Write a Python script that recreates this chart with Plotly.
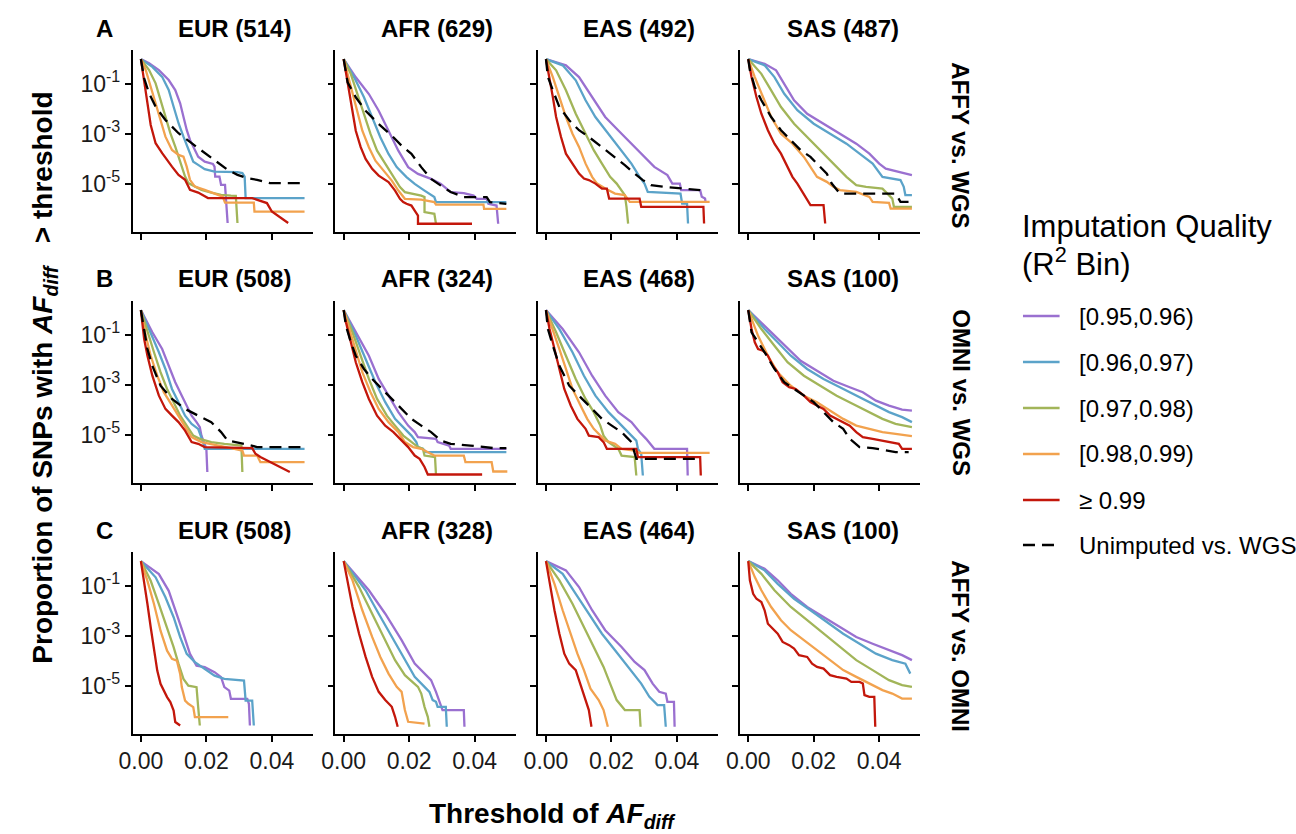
import plotly.graph_objects as go
from plotly.subplots import make_subplots

# ~~~~~~~~~~~~~~~~~~~~~~~~~~~~~~~~~~~~~~~~~~~~~~~~~~~~~~~~~~~~~~~~~~~~~~~~~~~~~~
# values: x = AF_diff threshold, ly = log10(proportion > threshold)
# keys: p95 [0.95,0.96), p96 [0.96,0.97), p97 [0.97,0.98), p98 [0.98,0.99), p99 >=0.99, unimp

bins = ["p95", "p96", "p97", "p98", "p99", "unimp"]
bin_labels = ["[0.95,0.96)", "[0.96,0.97)", "[0.97,0.98)", "[0.98,0.99)", "\u2265 0.99", "Unimputed vs. WGS"]
comparisons = ["AFFY vs. WGS", "OMNI vs. WGS", "AFFY vs. OMNI"]
row_letters = ["A", "B", "C"]
pops = [
    ["EUR (514)", "AFR (629)", "EAS (492)", "SAS (487)"],
    ["EUR (508)", "AFR (324)", "EAS (468)", "SAS (100)"],
    ["EUR (508)", "AFR (328)", "EAS (464)", "SAS (100)"],
]
x_ticks = [0.0, 0.02, 0.04]
x_ticktext = ["0.00", "0.02", "0.04"]
y_ticks = [1e-1, 1e-3, 1e-5]
y_ticktext = ["10<sup>-1</sup>", "10<sup>-3</sup>", "10<sup>-5</sup>"]

A_EUR = {
    "p95": ([0, .0025, .0055, .0085, .0105, .012, .013, .014, .015, .0175, .0195, .022, .0225, .0227, .024, .0245, .0257, .026, .0265],
            [0, -0.17, -0.44, -0.84, -1.24, -1.77, -2.31, -2.84, -3.24, -3.91, -4.11, -4.20, -4.31, -4.71, -4.71, -5.04, -5.04, -5.51, -6.57]),
    "p96": ([0, .0035, .0065, .0085, .01, .0115, .013, .0145, .016, .0175, .0195, .0225, .0295, .031, .0317, .032, .05],
            [0, -0.31, -0.71, -1.24, -1.91, -2.57, -3.11, -3.64, -4.11, -4.24, -4.41, -4.51, -4.53, -4.57, -4.71, -5.57, -5.57]),
    "p97": ([0, .0025, .0045, .006, .0075, .009, .0105, .0115, .0125, .0135, .0145, .0165, .0185, .0215, .0245, .0275, .029, .0295],
            [0, -0.44, -0.97, -1.64, -2.31, -2.97, -3.51, -3.91, -4.31, -4.71, -4.97, -5.11, -5.24, -5.35, -5.44, -5.47, -5.48, -6.57]),
    "p98": ([0, .0015, .003, .0045, .006, .0075, .0095, .0115, .013, .014, .015, .0165, .0195, .0225, .025, .0257, .0345, .0347, .05],
            [0, -0.44, -1.11, -1.77, -2.44, -3.11, -3.64, -3.84, -3.91, -4.31, -4.84, -5.11, -5.24, -5.37, -5.51, -5.75, -5.75, -6.11, -6.11]),
    "p99": ([0, .0013, .003, .0045, .0065, .0095, .0115, .0135, .015, .0175, .02, .0205, .034, .0385, .04, .0435, .045],
            [0, -1.24, -2.64, -3.37, -3.77, -4.31, -4.64, -4.84, -5.24, -5.35, -5.51, -5.57, -5.57, -5.77, -6.11, -6.44, -6.57]),
    "unimp": ([0, .001, .0025, .0045, .0075, .0115, .0155, .0195, .0235, .0265, .0295, .0325, .0355, .0395, .05],
              [0, -0.77, -1.37, -1.91, -2.44, -2.97, -3.37, -3.77, -4.17, -4.44, -4.64, -4.77, -4.84, -4.97, -4.97]),
}

A_AFR = {
    "p95": ([0, .0037, .0077, .0107, .0137, .0167, .0197, .0227, .0267, .0297, .0327, .0367, .0397, .0407, .0437, .0442, .0467, .0472],
            [0, -0.73, -1.4, -2.07, -2.87, -3.67, -4.33, -4.6, -4.8, -5.0, -5.33, -5.37, -5.47, -5.6, -5.6, -5.8, -5.87, -6.6]),
    "p96": ([0, .0032, .0062, .0087, .0112, .0137, .0162, .0192, .0217, .0247, .0277, .0282, .0497],
            [0, -0.73, -1.53, -2.33, -3.13, -3.8, -4.33, -4.73, -5.0, -5.27, -5.53, -5.73, -5.73]),
    "p97": ([0, .0022, .0042, .0062, .0082, .0102, .0127, .0152, .0172, .0187, .0217, .0237, .0247, .0247, .0277, .0282],
            [0, -0.6, -1.4, -2.2, -3.0, -3.67, -4.2, -4.73, -5.13, -5.33, -5.4, -5.47, -5.53, -6.13, -6.2, -6.6]),
    "p98": ([0, .0012, .0027, .0042, .0057, .0077, .0097, .0122, .0147, .0167, .0182, .0187, .0237, .0277, .0282, .0427, .0429, .0497],
            [0, -0.6, -1.4, -2.2, -2.87, -3.53, -4.07, -4.47, -4.87, -5.27, -5.53, -5.6, -5.63, -5.73, -5.83, -5.83, -6.0, -6.0]),
    "p99": ([0, .0007, .0017, .0027, .0037, .0052, .0067, .0087, .0107, .0137, .0157, .0172, .0182, .0192, .0207, .0217, .0227, .0227, .0392],
            [0, -0.53, -1.27, -2.07, -2.87, -3.53, -4.0, -4.4, -4.67, -4.93, -5.27, -5.6, -5.73, -5.8, -5.87, -6.07, -6.27, -6.6, -6.6]),
    "unimp": ([0, .0005, .0012, .0037, .0067, .0107, .0147, .0177, .0207, .0237, .0267, .0297, .0327, .0367, .0437, .0447, .0497],
              [0, -0.33, -0.93, -1.53, -2.07, -2.6, -3.07, -3.47, -3.8, -4.33, -4.8, -5.07, -5.33, -5.53, -5.53, -5.73, -5.8]),
}

A_EAS = {
    "p95": ([0, .0061, .0101, .0141, .0181, .0231, .0281, .0331, .0371, .0386, .0409, .0413, .0471, .0476, .0486, .0488],
            [0, -0.25, -0.72, -1.52, -2.32, -2.99, -3.65, -4.32, -4.65, -4.99, -4.99, -5.25, -5.25, -5.52, -5.59, -5.76]),
    "p96": ([0, .0051, .0091, .0121, .0151, .0191, .0231, .0261, .0286, .0301, .0311, .0411, .0416, .0431, .0434],
            [0, -0.25, -0.85, -1.65, -2.32, -2.99, -3.65, -4.19, -4.72, -4.99, -5.32, -5.39, -5.79, -5.79, -6.59]),
    "p97": ([0, .0031, .0061, .0091, .0121, .0146, .0171, .0196, .0216, .0231, .0241, .0246, .0251],
            [0, -0.45, -1.25, -2.19, -2.99, -3.65, -4.19, -4.72, -4.99, -5.25, -5.45, -5.92, -6.59]),
    "p98": ([0, .0021, .0041, .0061, .0081, .0101, .0121, .0141, .0156, .0181, .0211, .0241, .0256, .05],
            [0, -0.72, -1.52, -2.32, -2.99, -3.52, -4.19, -4.72, -4.99, -5.19, -5.39, -5.45, -5.72, -5.72]),
    "p99": ([0, .0011, .0021, .0031, .0046, .0061, .0081, .0101, .0116, .0131, .0151, .0171, .0186, .0193, .0286, .0291, .0481, .0483],
            [0, -0.72, -1.52, -2.32, -3.12, -3.79, -4.19, -4.59, -4.79, -4.85, -4.99, -5.19, -5.19, -5.59, -5.59, -5.92, -5.92, -6.59]),
    "unimp": ([0, .0006, .0021, .0041, .0071, .0101, .0131, .0171, .0211, .0241, .0271, .0296, .0321, .0361, .0471],
              [0, -0.72, -1.25, -1.92, -2.45, -2.85, -3.12, -3.52, -3.92, -4.25, -4.59, -4.85, -5.05, -5.12, -5.25]),
}

A_SAS = {
    "p95": ([0, .005, .0085, .011, .014, .018, .023, .028, .033, .037, .040, .042, .046, .05],
            [0, -0.19, -0.45, -0.99, -1.65, -2.19, -2.59, -2.99, -3.39, -3.79, -4.19, -4.39, -4.52, -4.65]),
    "p96": ([0, .005, .008, .011, .015, .02, .025, .03, .034, .038, .041, .044, .0465, .0475, .048, .05],
            [0, -0.25, -0.72, -1.39, -2.05, -2.59, -2.99, -3.39, -3.79, -4.19, -4.72, -4.79, -4.85, -5.12, -5.45, -5.45]),
    "p97": ([0, .004, .007, .01, .014, .018, .022, .026, .030, .033, .036, .041, .043, .044, .0445, .05],
            [0, -0.59, -1.25, -1.92, -2.59, -3.12, -3.65, -4.19, -4.72, -5.05, -5.12, -5.19, -5.45, -5.59, -5.92, -5.92]),
    "p98": ([0, .002, .0045, .007, .01, .0135, .017, .019, .021, .024, .026, .028, .033, .037, .038, .043, .0435, .05],
            [0, -0.72, -1.52, -2.32, -2.99, -3.39, -3.92, -4.32, -4.72, -4.92, -5.12, -5.25, -5.32, -5.52, -5.72, -5.76, -5.99, -5.99]),
    "p99": ([0, .001, .0025, .004, .006, .008, .01, .012, .0135, .015, .0165, .0175, .0185, .019, .023, .0235],
            [0, -0.72, -1.52, -2.19, -2.85, -3.39, -3.79, -4.32, -4.72, -4.99, -5.32, -5.52, -5.72, -5.85, -5.85, -6.59]),
    "unimp": ([0, .0005, .002, .004, .007, .010, .013, .016, .019, .022, .024, .0255, .028, .045, .0465, .05],
              [0, -0.45, -1.12, -1.65, -2.32, -2.85, -3.25, -3.65, -3.92, -4.32, -4.59, -4.99, -5.39, -5.39, -5.72, -5.72]),
}

B_EUR = {
    "p95": ([0, .0035, .0065, .0085, .0105, .0125, .014, .0155, .017, .018, .0185, .02, .0203],
            [0, -0.89, -1.56, -2.23, -2.89, -3.43, -3.83, -4.23, -4.49, -4.69, -5.03, -5.56, -6.49]),
    "p96": ([0, .003, .0055, .0075, .0095, .0115, .0135, .0155, .0175, .019, .0195, .05],
            [0, -0.89, -1.69, -2.36, -3.16, -3.69, -4.23, -4.56, -4.76, -5.29, -5.56, -5.56]),
    "p97": ([0, .002, .004, .006, .008, .01, .012, .014, .016, .018, .0215, .0255, .0307, .031],
            [0, -0.89, -1.69, -2.49, -3.16, -3.69, -4.23, -4.63, -5.03, -5.16, -5.29, -5.36, -5.43, -6.49]),
    "p98": ([0, .0015, .003, .005, .007, .0095, .0115, .014, .0155, .0185, .0215, .0245, .0275, .031, .0315, .0355, .0365, .05],
            [0, -1.03, -1.83, -2.63, -3.29, -3.83, -4.23, -4.76, -5.09, -5.29, -5.36, -5.45, -5.53, -5.63, -5.83, -5.83, -6.09, -6.09]),
    "p99": ([0, .0005, .001, .002, .0035, .0055, .0075, .0095, .0115, .0135, .0155, .0175, .0195, .034, .035, .0365, .0395, .042, .0455],
            [0, -0.49, -1.16, -1.83, -2.63, -3.43, -3.96, -4.23, -4.49, -4.83, -5.29, -5.36, -5.49, -5.53, -5.76, -5.89, -6.09, -6.23, -6.49]),
    "unimp": ([0, .001, .002, .0035, .006, .0095, .0135, .0175, .0215, .0245, .0265, .0315, .0355, .05],
              [0, -0.76, -1.56, -2.23, -3.03, -3.56, -3.96, -4.23, -4.49, -4.89, -5.23, -5.36, -5.49, -5.49]),
}

B_AFR = {
    "p95": ([0, .0037, .0077, .0107, .0137, .0167, .0197, .0217, .0227, .0282, .0287, .0322, .0327, .0497],
            [0, -0.89, -1.83, -2.76, -3.43, -4.09, -4.63, -4.89, -5.09, -5.16, -5.29, -5.43, -5.56, -5.56]),
    "p96": ([0, .0037, .0067, .0097, .0127, .0157, .0187, .0207, .0222, .0227, .0242, .0252, .0497],
            [0, -1.03, -1.96, -2.89, -3.69, -4.36, -4.76, -5.03, -5.29, -5.49, -5.56, -5.69, -5.69]),
    "p97": ([0, .0027, .0052, .0077, .0102, .0132, .0157, .0182, .0202, .0227, .0242, .0247, .0279, .0282],
            [0, -0.89, -1.83, -2.76, -3.56, -4.23, -4.63, -5.03, -5.23, -5.49, -5.56, -5.83, -5.89, -6.59]),
    "p98": ([0, .0017, .0037, .0057, .0082, .0107, .0137, .0167, .0187, .0212, .0237, .0277, .0367, .0372, .0452, .0457, .05],
            [0, -0.76, -1.69, -2.49, -3.29, -3.96, -4.49, -4.89, -5.29, -5.49, -5.56, -5.83, -5.83, -6.09, -6.09, -6.47, -6.47]),
    "p99": ([0, .0007, .0022, .0037, .0057, .0077, .0102, .0127, .0152, .0177, .0197, .0217, .0232, .0247, .0257, .0423],
            [0, -0.49, -1.29, -2.09, -2.89, -3.56, -4.23, -4.63, -4.89, -5.23, -5.49, -5.83, -5.96, -6.29, -6.59, -6.59]),
    "unimp": ([0, .0007, .0022, .0037, .0062, .0087, .0117, .0147, .0177, .0207, .0237, .0267, .0297, .0327, .0387, .0447, .0457, .0497],
              [0, -0.63, -1.29, -1.83, -2.36, -2.76, -3.16, -3.56, -3.96, -4.36, -4.63, -4.89, -5.23, -5.36, -5.43, -5.49, -5.53, -5.53]),
}

B_EAS = {
    "p95": ([0, .0051, .0101, .0141, .0181, .0221, .0261, .0286, .0306, .0326, .0331, .0431, .0433],
            [0, -0.76, -1.69, -2.63, -3.43, -4.09, -4.49, -4.89, -5.16, -5.49, -5.56, -5.56, -6.63]),
    "p96": ([0, .0041, .0081, .0116, .0151, .0191, .0221, .0241, .0261, .0276, .0281, .0291, .0296],
            [0, -0.76, -1.69, -2.63, -3.43, -4.09, -4.49, -4.76, -5.03, -5.23, -5.56, -5.76, -6.63]),
    "p97": ([0, .0031, .0061, .0091, .0121, .0146, .0166, .0176, .0191, .0221, .0231, .0271, .0276],
            [0, -0.89, -1.83, -2.76, -3.56, -4.09, -4.63, -5.03, -5.29, -5.56, -5.83, -5.89, -6.63]),
    "p98": ([0, .0021, .0041, .0061, .0081, .0106, .0126, .0146, .0166, .0181, .0211, .0231, .0271, .0286, .05],
            [0, -0.76, -1.56, -2.36, -3.16, -3.83, -4.36, -4.76, -5.03, -5.23, -5.36, -5.56, -5.63, -5.72, -5.72]),
    "p99": ([0, .0011, .0026, .0041, .0056, .0076, .0096, .0121, .0131, .0161, .0176, .0186, .0276, .0281, .0471, .0473],
            [0, -0.76, -1.56, -2.36, -3.16, -3.83, -4.36, -4.76, -5.03, -5.09, -5.29, -5.56, -5.56, -5.89, -5.89, -6.63]),
    "unimp": ([0, .0006, .0021, .0041, .0071, .0101, .0141, .0171, .0201, .0231, .0246, .0261, .0276, .0471],
              [0, -0.76, -1.43, -2.23, -3.03, -3.43, -3.96, -4.36, -4.63, -4.89, -5.09, -5.29, -5.96, -5.96]),
}

B_SAS = {
    "p95": ([0, .006, .011, .016, .021, .026, .031, .035, .039, .043, .047, .05],
            [0, -0.76, -1.43, -2.03, -2.43, -2.83, -3.09, -3.29, -3.63, -3.83, -3.99, -4.03]),
    "p96": ([0, .005, .009, .013, .018, .023, .028, .033, .038, .043, .047, .05],
            [0, -0.76, -1.29, -1.83, -2.36, -2.76, -3.09, -3.43, -3.76, -4.09, -4.29, -4.49]),
    "p97": ([0, .004, .008, .012, .017, .022, .027, .032, .037, .041, .045, .05],
            [0, -0.76, -1.43, -2.09, -2.63, -3.03, -3.43, -3.76, -4.09, -4.36, -4.56, -4.69]),
    "p98": ([0, .003, .006, .009, .013, .017, .021, .025, .029, .033, .037, .041, .045, .05],
            [0, -1.03, -1.83, -2.49, -3.03, -3.43, -3.69, -4.03, -4.36, -4.63, -4.76, -4.89, -4.96, -5.05]),
    "p99": ([0, .001, .002, .003, .0045, .006, .0075, .009, .0105, .0125, .0145, .017, .019, .021, .023, .025, .027, .029, .031, .033, .035, .038, .041, .044, .046, .047, .05],
            [0, -0.76, -1.29, -1.56, -1.63, -1.83, -2.23, -2.49, -2.89, -3.09, -3.16, -3.43, -3.69, -3.83, -3.96, -4.23, -4.36, -4.49, -4.63, -4.89, -5.09, -5.16, -5.23, -5.29, -5.36, -5.56, -5.56]),
    "unimp": ([0, .001, .003, .005, .008, .011, .014, .017, .02, .023, .026, .029, .031, .034, .038, .045, .049],
              [0, -0.89, -1.29, -1.69, -2.36, -2.89, -3.16, -3.43, -3.69, -4.09, -4.49, -4.76, -5.16, -5.49, -5.53, -5.69, -5.69]),
}

C_EUR = {
    "p95": ([0, .0055, .0085, .011, .013, .015, .017, .0195, .0225, .0245, .0255, .027, .0275, .0325, .033, .0333],
            [0, -0.52, -1.19, -2.12, -2.92, -3.72, -4.19, -4.25, -4.45, -4.65, -5.05, -5.19, -5.52, -5.52, -5.72, -6.59]),
    "p96": ([0, .0045, .0075, .01, .012, .014, .0165, .0195, .0225, .0255, .0315, .032, .034, .0345],
            [0, -0.65, -1.45, -2.25, -3.05, -3.72, -4.05, -4.32, -4.59, -4.72, -4.79, -5.59, -5.59, -6.59]),
    "p97": ([0, .003, .0055, .008, .01, .0115, .013, .0145, .017, .0175, .018],
            [0, -0.79, -1.72, -2.65, -3.45, -4.12, -4.72, -4.99, -5.05, -5.85, -6.59]),
    "p98": ([0, .002, .004, .006, .008, .0095, .011, .012, .0125, .0135, .0145, .016, .0165, .0267],
            [0, -0.79, -1.72, -2.79, -3.59, -3.92, -3.99, -4.52, -5.05, -5.59, -5.72, -5.85, -6.25, -6.25]),
    "p99": ([0, .001, .002, .003, .004, .005, .006, .007, .008, .009, .01, .0105, .012],
            [0, -0.79, -1.72, -2.65, -3.59, -4.39, -4.92, -5.19, -5.45, -5.65, -5.99, -6.45, -6.59]),
}

C_AFR = {
    "p95": ([0, .0077, .0127, .0177, .0217, .0247, .0267, .0282, .0292, .0302, .0367, .0369],
            [0, -1.17, -2.11, -3.17, -4.11, -4.51, -4.77, -5.24, -5.57, -5.97, -5.97, -6.64]),
    "p96": ([0, .0067, .0107, .0147, .0187, .0217, .0247, .0262, .0272, .0282, .0287, .0312, .0315],
            [0, -1.17, -2.11, -3.04, -3.97, -4.64, -5.04, -5.24, -5.57, -5.64, -5.84, -5.84, -6.64]),
    "p97": ([0, .0047, .0087, .0127, .0157, .0187, .0227, .0237, .0247, .0257, .0262],
            [0, -1.04, -2.11, -3.17, -3.97, -4.57, -5.04, -5.31, -5.84, -6.24, -6.64]),
    "p98": ([0, .0027, .0057, .0087, .0112, .0137, .0162, .0177, .0187, .0197, .0247],
            [0, -0.77, -1.97, -3.04, -3.84, -4.51, -5.04, -5.24, -5.97, -6.44, -6.51]),
    "p99": ([0, .0012, .0027, .0047, .0067, .0087, .0107, .0127, .0147, .0157, .0165],
            [0, -0.77, -1.84, -2.91, -3.84, -4.64, -5.24, -5.57, -5.84, -6.24, -6.64]),
}

C_EAS = {
    "p95": ([0, .0061, .0101, .0141, .0181, .0231, .0271, .0301, .0326, .0346, .0366, .0371, .0391, .0393],
            [0, -0.37, -1.04, -1.97, -2.77, -3.44, -4.04, -4.37, -4.91, -5.24, -5.31, -5.64, -5.64, -6.64]),
    "p96": ([0, .0051, .0091, .0131, .0171, .0211, .0251, .0291, .0316, .0341, .0361, .0366],
            [0, -0.51, -1.31, -2.11, -2.91, -3.57, -4.24, -4.91, -5.44, -5.77, -5.77, -6.64]),
    "p97": ([0, .0041, .0081, .0116, .0146, .0176, .0196, .0216, .0241, .0286, .0289],
            [0, -0.77, -1.71, -2.64, -3.44, -4.24, -4.91, -5.57, -5.97, -5.97, -6.64]),
    "p98": ([0, .0026, .0051, .0076, .0096, .0116, .0136, .0161, .0176, .0189],
            [0, -0.91, -1.97, -2.91, -3.71, -4.37, -5.11, -5.57, -5.97, -6.64]),
    "p99": ([0, .0011, .0026, .0041, .0056, .0071, .0091, .0101, .0111, .0121, .0131, .0139],
            [0, -0.91, -1.97, -2.91, -3.71, -4.11, -4.37, -4.77, -5.17, -5.57, -5.97, -6.64]),
}

C_SAS = {
    "p95": ([0, .005, .009, .013, .018, .023, .028, .033, .038, .043, .047, .05],
            [0, -0.31, -0.77, -1.31, -1.84, -2.24, -2.64, -3.04, -3.31, -3.57, -3.77, -3.97]),
    "p96": ([0, .005, .009, .014, .019, .024, .029, .034, .039, .044, .048, .0495],
            [0, -0.37, -0.91, -1.51, -1.97, -2.44, -2.91, -3.31, -3.71, -3.97, -4.11, -4.51]),
    "p97": ([0, .004, .008, .013, .018, .023, .028, .033, .038, .043, .047, .05],
            [0, -0.51, -1.17, -1.84, -2.37, -2.91, -3.44, -3.97, -4.37, -4.77, -4.97, -5.04]),
    "p98": ([0, .002, .004, .007, .01, .013, .017, .021, .025, .029, .033, .037, .041, .044, .047, .05],
            [0, -0.64, -1.17, -1.84, -2.37, -2.77, -3.17, -3.57, -3.97, -4.37, -4.64, -4.91, -5.17, -5.31, -5.51, -5.51]),
    "p99": ([0, .0005, .0015, .0025, .004, .005, .006, .0075, .009, .0105, .0125, .014, .0155, .018, .0195, .021, .023, .025, .027, .030, .0315, .034, .035, .0355, .037, .0385, .0388],
            [0, -0.77, -1.31, -1.51, -1.64, -1.97, -2.51, -2.71, -2.91, -3.24, -3.37, -3.51, -3.77, -3.84, -4.11, -4.24, -4.31, -4.57, -4.64, -4.71, -4.84, -4.84, -4.91, -5.37, -5.44, -5.44, -6.64]),
}

panels = [
    [A_EUR, A_AFR, A_EAS, A_SAS],
    [B_EUR, B_AFR, B_EAS, B_SAS],
    [C_EUR, C_AFR, C_EAS, C_SAS],
]

# ~~~~~~~~~~~~~~~~~~~~~~~~~~~~~~~~~~~~~~~~~~~~~~~~~~~~~~~~~~~~~~~~~~~~~~~~~~~~~~
W, H = 1296, 834
FONT = "Liberation Sans"
colors = {"p95": "#9A70D0", "p96": "#5BA3C9", "p97": "#A2B559", "p98": "#F2A24E",
          "p99": "#C3170B", "unimp": "black"}
dashes = {"unimp": "12px,7px"}

col_left = [120, 325, 529.5, 734]
row_top = [50, 301, 552]
size = 182


def fx(px):
    return px / W


def fy(py):
    return 1 - py / H


fig = make_subplots(rows=3, cols=4)

for r in range(3):
    for c in range(4):
        data = panels[r][c]
        for key in bins:
            if key not in data:
                continue
            xs, ly = data[key]
            fig.add_trace(go.Scatter(
                x=xs, y=[10 ** v for v in ly], mode="lines",
                line=dict(color=colors[key], width=2.3, dash=dashes.get(key, "solid")),
                showlegend=False, hoverinfo="skip"),
                row=r + 1, col=c + 1)

        n = r * 4 + c + 1
        sx = "" if n == 1 else str(n)
        axis_style = dict(showline=True, linecolor="black", linewidth=1.6, ticks="outside",
                          ticklen=6, tickwidth=1.6, tickcolor="black", showgrid=False,
                          zeroline=False, tickfont=dict(family=FONT, size=23, color="#1a1a1a"))
        fig.layout["xaxis" + sx].update(
            domain=[fx(col_left[c]), fx(col_left[c] + size)],
            range=[-0.0025, 0.0525], tickvals=x_ticks, ticktext=x_ticktext,
            showticklabels=(r == 2), **axis_style)
        fig.layout["yaxis" + sx].update(
            domain=[fy(row_top[r] + size), fy(row_top[r])],
            type="log", range=[-6.93, 0.365], tickvals=y_ticks, ticktext=y_ticktext,
            showticklabels=(c == 0), **axis_style)

annotations = []
title_x = [223, 428, 632, 838]
title_y = [28, 279, 530]
right_y = [145, 393, 646]
for r in range(3):
    annotations.append(dict(x=fx(91), y=fy(title_y[r]), text="<b>%s</b>" % row_letters[r],
                            font=dict(size=24)))
    for c in range(4):
        annotations.append(dict(x=fx(title_x[c]), y=fy(title_y[r]),
                                text="<b>%s</b>" % pops[r][c], font=dict(size=24)))
    annotations.append(dict(x=fx(957), y=fy(right_y[r]), text="<b>%s</b>" % comparisons[r],
                            textangle=90, font=dict(size=24)))

# axis titles
annotations.append(dict(x=fx(30), y=fy(378), textangle=-90, font=dict(size=28),
                        text="<b>Proportion of SNPs with <i>AF<sub>diff</sub></i>&nbsp;&nbsp;&nbsp;&gt; threshold</b>"))
annotations.append(dict(x=fx(544), y=fy(815), font=dict(size=28),
                        text="<b>Threshold of <i>AF<sub>diff</sub></i></b>"))

# legend drawn by hand so spacing matches
annotations.append(dict(x=fx(1017), y=fy(227), xanchor="left", font=dict(size=31),
                        text="Imputation Quality"))
annotations.append(dict(x=fx(1017), y=fy(262), xanchor="left", font=dict(size=31),
                        text="(R<sup>2</sup> Bin)"))
shapes = []
leg_y = [316, 362, 408, 454, 500, 545]
for i, key in enumerate(bins):
    shapes.append(dict(type="line", xref="paper", yref="paper",
                       x0=fx(1020), x1=fx(1057), y0=fy(leg_y[i]), y1=fy(leg_y[i]),
                       line=dict(color=colors[key], width=2.3, dash=dashes.get(key, "solid"))))
    annotations.append(dict(x=fx(1075), y=fy(leg_y[i]), xanchor="left", font=dict(size=24),
                            text=bin_labels[i]))

for a in annotations:
    a.setdefault("xanchor", "center")
    a.update(xref="paper", yref="paper", showarrow=False, yanchor="middle")
    a["font"].update(family=FONT, color="black")

fig.update_layout(
    width=W, height=H, margin=dict(l=0, r=0, t=0, b=0),
    paper_bgcolor="white", plot_bgcolor="white",
    font=dict(family=FONT, color="black"),
    annotations=annotations, shapes=shapes, showlegend=False,
)

# drop the browser's default 8px body margin so the figure sits at the page origin
fig.write_html("out.html", config={"displayModeBar": False},
               post_script="document.body.style.margin='0px';")
